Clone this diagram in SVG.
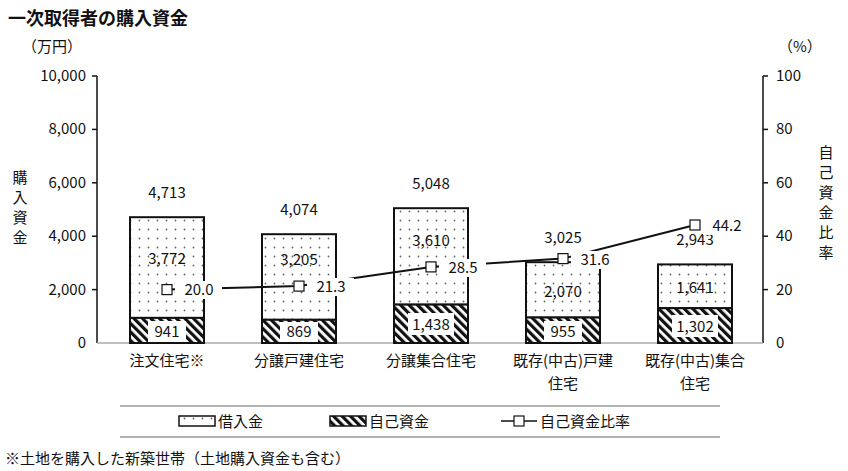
<svg xmlns="http://www.w3.org/2000/svg" width="848" height="471" viewBox="0 0 848 471">
<defs>
<pattern id="dots" width="9" height="9" patternUnits="userSpaceOnUse"><rect width="9" height="9" fill="#fff"/><circle cx="4.5" cy="4.5" r="0.9" fill="#666"/></pattern>
<pattern id="hatch" width="6" height="6" patternUnits="userSpaceOnUse" patternTransform="rotate(-45)"><rect width="6" height="6" fill="#fff"/><rect width="3.2" height="6" fill="#111"/></pattern>
</defs>
<style>
text{font-family:"Noto Sans CJK JP","Liberation Sans",sans-serif;fill:#111}
.n{font-size:15px;text-anchor:middle}
.ax{font-size:15px}
.c{font-size:15px;text-anchor:middle}
.v{font-size:15px;text-anchor:middle}
.b{stroke:#111;stroke-width:2}
.lb{fill:#fff}
</style>
<rect width="848" height="471" fill="#fff"/>
<text x="8" y="25" style="font-size:18px;font-weight:bold">一次取得者の購入資金</text>
<text x="22" y="52" class="ax">（万円）</text>
<text x="778" y="52" class="ax">（%）</text>
<g id="yl">
<text x="20" y="183" class="v">購</text><text x="20" y="203" class="v">入</text><text x="20" y="223" class="v">資</text><text x="20" y="243" class="v">金</text>
</g>
<g id="yr">
<text x="826" y="158" class="v">自</text><text x="826" y="178" class="v">己</text><text x="826" y="198" class="v">資</text><text x="826" y="218" class="v">金</text><text x="826" y="238" class="v">比</text><text x="826" y="258" class="v">率</text>
</g>
<g id="axes" stroke="#111" stroke-width="1.5">
<line x1="97" y1="76" x2="97" y2="343"/><line x1="763" y1="76" x2="763" y2="343"/><line x1="97" y1="343" x2="763" y2="343" stroke="#aaa"/>
<line x1="92" y1="76" x2="97" y2="76"/><line x1="92" y1="129.4" x2="97" y2="129.4"/><line x1="92" y1="182.8" x2="97" y2="182.8"/><line x1="92" y1="236.2" x2="97" y2="236.2"/><line x1="92" y1="289.6" x2="97" y2="289.6"/>
<line x1="763" y1="76" x2="768" y2="76"/><line x1="763" y1="129.4" x2="768" y2="129.4"/><line x1="763" y1="182.8" x2="768" y2="182.8"/><line x1="763" y1="236.2" x2="768" y2="236.2"/><line x1="763" y1="289.6" x2="768" y2="289.6"/>
</g>
<g id="ticks" class="ax" style="text-anchor:end">
<text x="86" y="81">10,000</text><text x="86" y="134">8,000</text><text x="86" y="188">6,000</text><text x="86" y="241">4,000</text><text x="86" y="295">2,000</text><text x="86" y="348">0</text>
</g>
<g id="ticksr" class="ax">
<text x="776" y="81">100</text><text x="776" y="134">80</text><text x="776" y="188">60</text><text x="776" y="241">40</text><text x="776" y="295">20</text><text x="776" y="348">0</text>
</g>
<g id="bar1"><rect x="130" y="217.2" width="74" height="100.7" fill="url(#dots)" class="b"/><rect x="130" y="317.9" width="74" height="25.1" fill="url(#hatch)" class="b"/><text x="167" y="198" class="n">4,713</text><text x="167" y="264" class="n">3,772</text><rect x="148" y="321" width="38" height="21" class="lb"/><text x="167" y="337" class="n">941</text></g>
<g id="bar2"><rect x="262" y="234.2" width="74" height="85.6" fill="url(#dots)" class="b"/><rect x="262" y="319.8" width="74" height="23.2" fill="url(#hatch)" class="b"/><text x="299" y="215" class="n">4,074</text><text x="299" y="265" class="n">3,205</text><rect x="280" y="322" width="38" height="20" class="lb"/><text x="299" y="337" class="n">869</text></g>
<g id="bar3"><rect x="394" y="208.2" width="74" height="96.4" fill="url(#dots)" class="b"/><rect x="394" y="304.6" width="74" height="38.4" fill="url(#hatch)" class="b"/><text x="431" y="189" class="n">5,048</text><text x="431" y="246" class="n">3,610</text><rect x="408" y="313" width="46" height="22" class="lb"/><text x="431" y="330" class="n">1,438</text></g>
<g id="bar4"><rect x="526" y="262.2" width="74" height="55.3" fill="url(#dots)" class="b"/><rect x="526" y="317.5" width="74" height="25.5" fill="url(#hatch)" class="b"/><text x="563" y="243" class="n">3,025</text><text x="563" y="297" class="n">2,070</text><rect x="544" y="321" width="38" height="21" class="lb"/><text x="563" y="337" class="n">955</text></g>
<g id="bar5"><rect x="658" y="264.4" width="74" height="43.8" fill="url(#dots)" class="b"/><rect x="658" y="308.2" width="74" height="34.8" fill="url(#hatch)" class="b"/><text x="695" y="245" class="n">2,943</text><text x="695" y="293" class="n">1,641</text><rect x="672" y="315" width="46" height="22" class="lb"/><text x="695" y="332" class="n">1,302</text></g>
<g id="connectors"><polyline points="167,289.6 299,286.1 431,266.9 563,258.6 695,225" fill="none" stroke="#111" stroke-width="2"/></g>
<g id="ratio">
<rect x="175" y="281" width="47" height="18" class="lb"/><text x="199" y="295" class="n">20.0</text>
<rect x="307" y="278" width="47" height="18" class="lb"/><text x="331" y="292" class="n">21.3</text>
<rect x="439" y="259" width="47" height="18" class="lb"/><text x="463" y="273" class="n">28.5</text>
<rect x="571" y="251" width="47" height="18" class="lb"/><text x="595" y="265" class="n">31.6</text>
<rect x="703" y="217" width="47" height="18" class="lb"/><text x="727" y="231" class="n">44.2</text>
<g fill="#fff" stroke="#111" stroke-width="1.2"><rect x="162" y="284.6" width="10" height="10"/><rect x="294" y="281.1" width="10" height="10"/><rect x="426" y="261.9" width="10" height="10"/><rect x="558" y="253.6" width="10" height="10"/><rect x="690" y="220" width="10" height="10"/></g>
</g>
<g id="cats" class="c">
<text x="167" y="366">注文住宅※</text><text x="299" y="366">分譲戸建住宅</text><text x="431" y="366">分譲集合住宅</text><text x="563" y="366">既存(中古)戸建</text><text x="563" y="389">住宅</text><text x="695" y="366">既存(中古)集合</text><text x="695" y="389">住宅</text>
</g>
<g id="legend">
<line x1="120" y1="406" x2="720" y2="406" stroke="#999" stroke-width="1.5"/><line x1="120" y1="437" x2="720" y2="437" stroke="#999" stroke-width="1.5"/>
<rect x="179" y="416" width="36" height="10" fill="url(#dots)" stroke="#111" stroke-width="1.5"/><text x="218" y="427" class="ax">借入金</text>
<rect x="330" y="416" width="36" height="10" fill="url(#hatch)" stroke="#111" stroke-width="1.5"/><text x="369" y="427" class="ax">自己資金</text>
<line x1="501" y1="421" x2="537" y2="421" stroke="#111" stroke-width="1.5"/><rect x="514" y="416" width="10" height="10" fill="#fff" stroke="#111" stroke-width="1.2"/><text x="540" y="427" class="ax">自己資金比率</text>
</g>
<text x="5" y="464" class="ax">※土地を購入した新築世帯（土地購入資金も含む）</text>
</svg>
